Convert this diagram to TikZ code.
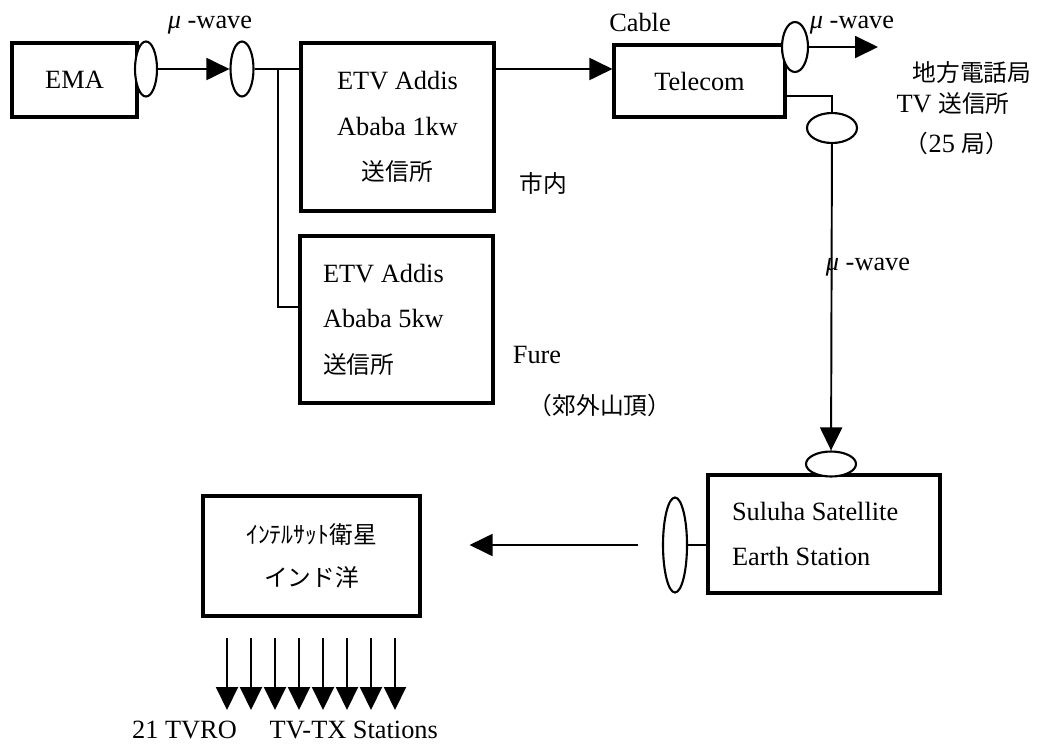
\documentclass[tikz,border=0pt]{standalone}
\usepackage{fontspec}
\setmainfont{Liberation Serif}
\newfontfamily\jpfont[Scale=0.9]{Noto Sans CJK JP}
\usetikzlibrary{shapes.geometric,arrows.meta,positioning}

\begin{document}
\begin{tikzpicture}[
    x=0.02cm, y=-0.02cm,
    font=\fontsize{15}{18}\selectfont,
    >={Triangle[length=0.46cm,width=0.44cm]},
    line width=1.1pt,
    box/.style={draw, rectangle, line width=1.8pt, align=center},
    antenna/.style={draw, ellipse, line width=1.2pt, inner sep=0pt, fill=white},
    lbl/.style={inner sep=0pt, align=center}
]
\useasboundingbox (0,0) rectangle (1050,747);

% Stations
\node[box, minimum width=2.5cm, minimum height=1.48cm] (ema) at (74.5,80) {EMA};
\node[box, minimum width=3.86cm, minimum height=3.36cm] (etv1) at (397.5,127) {ETV Addis\\[8pt]Ababa 1kw\\[8pt]{\jpfont 送信所}};
\node[box, minimum width=3.86cm, minimum height=3.34cm, align=flush left, text width=2.94cm] (etv2) at (396.5,319.5) {ETV Addis\\[8pt]Ababa 5kw\\[8pt]{\jpfont 送信所}};
\node[box, minimum width=3.42cm, minimum height=1.44cm] (telecom) at (699.5,81) {Telecom};
\node[box, minimum width=4.64cm, minimum height=2.36cm, align=flush left, text width=3.68cm] (earth) at (824,534) {Suluha Satellite\\[8pt]Earth Station};
\node[box, minimum width=4.34cm, minimum height=2.4cm] (intelsat) at (311.5,556) {{\jpfont ｲﾝﾃﾙｻｯﾄ衛星}\\[6pt]{\jpfont インド洋}};

% Antennas
\node[antenna, minimum width=0.44cm, minimum height=1.1cm] (ant1) at (146,69) {};
\node[antenna, minimum width=0.46cm, minimum height=1.1cm] (ant2) at (242,69) {};
\node[antenna, minimum width=0.52cm, minimum height=1.0cm] (ant3) at (795,47) {};
\node[antenna, minimum width=1.0cm, minimum height=0.6cm] (ant4) at (832,128) {};
\node[antenna, minimum width=1.0cm, minimum height=0.5cm] (ant5) at (831,464) {};
\node[antenna, minimum width=0.48cm, minimum height=1.9cm] (ant6) at (675,545) {};

% Labels
\node[lbl] (mw1) at (210,25) {\textit{μ} -wave};
\node[lbl] (cable) at (640,22) {Cable};
\node[lbl] (mw2) at (852,25) {\textit{μ} -wave};
\node[lbl] (local) at (972,72) {\jpfont 地方電話局};
\node[lbl] (tvtx) at (953,103) {TV {\jpfont 送信所}};
\node[lbl] (count) at (957,143) {{\jpfont （}25 {\jpfont 局）}};
\node[lbl] (city) at (543,183) {\jpfont 市内};
\node[lbl] (fure) at (537,355) {Fure};
\node[lbl] (suburb) at (600,405) {\jpfont （郊外山頂）};
\node[lbl] (mw3) at (868,267) {\textit{μ} -wave};
\node[lbl] (stations) at (285,730) {21 TVRO\quad\ TV-TX Stations};

% Connections
\coordinate (split) at (278,69);
\coordinate (tvout) at (878,47);
\draw[->] (ant1) -- (ant2);
\draw (ant2) -- (etv1.west |- ant2);
\draw (split) |- ([yshift=0.25cm]etv2.west);
\draw[->] (etv1.east |- ant2) -- (telecom.west |- ant2);
\draw[->] (ant3) -- (tvout);
\draw ([yshift=-0.3cm]telecom.east) -| (ant4);
\draw[->] (ant4) -- (ant5);
\draw (ant6) -- (earth.west |- ant6);
\draw[->, shorten <=0.48cm, shorten >=0.96cm] (ant6) -- (intelsat.east |- ant6);

% Downlinks
\foreach \i in {0,...,7} {
  \coordinate (rx\i) at (227+\i*24,638);
  \coordinate (tx\i) at (227+\i*24,710);
  \draw[->] (rx\i) -- (tx\i);
}

\end{tikzpicture}
\end{document}
